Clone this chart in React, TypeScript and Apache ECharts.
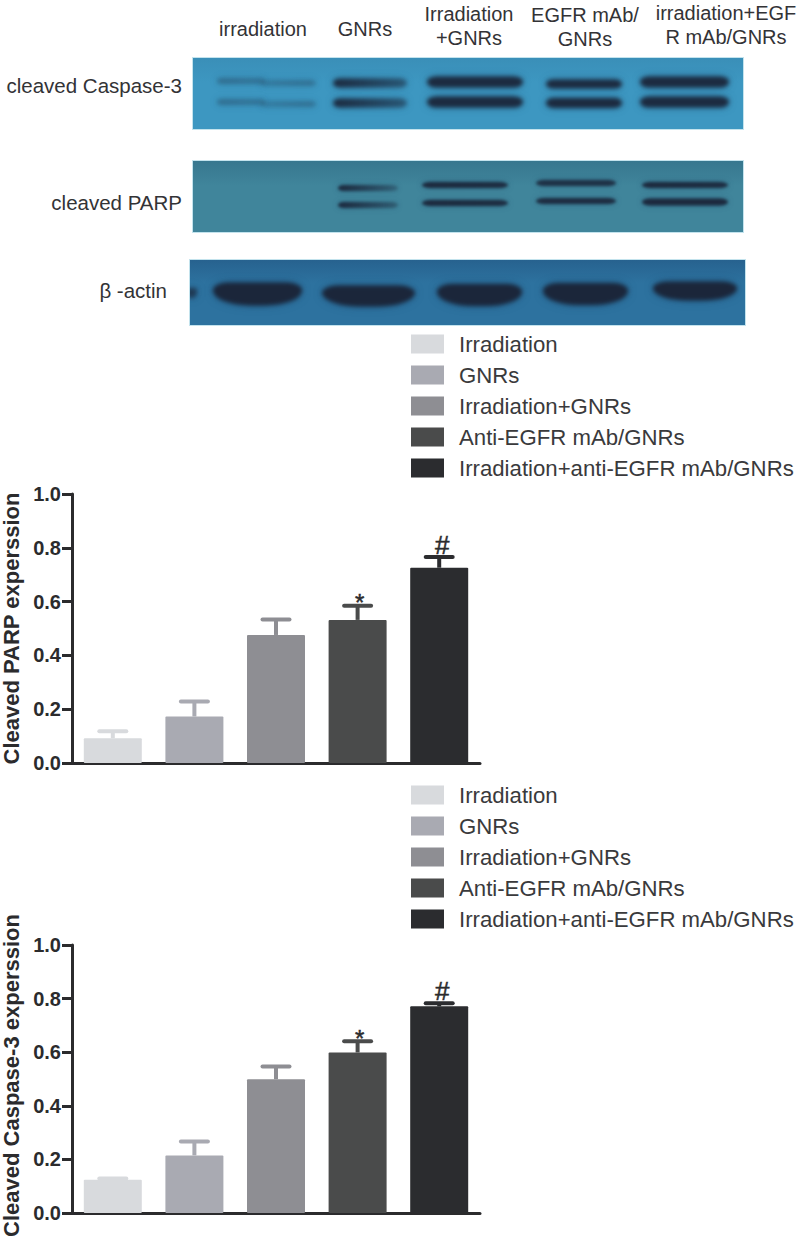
import React, { useEffect, useRef } from "react";
import * as echarts from "echarts";

const categories = ["Irradiation", "GNRs", "Irradiation+GNRs", "Anti-EGFR mAb/GNRs", "Irradiation+anti-EGFR mAb/GNRs"];
const parpValues = [0.092, 0.173, 0.476, 0.532, 0.726];
const parpErrorTops = [0.118, 0.229, 0.533, 0.585, 0.766];
const caspaseValues = [0.124, 0.215, 0.499, 0.599, 0.771];
const caspaseErrorTops = [0.129, 0.267, 0.547, 0.641, 0.783];
const significance = ["", "", "", "*", "#"];
const barColors = ["#d8dadd", "#a9aab2", "#8e8e93", "#4a4b4b", "#2b2c2f"];
const INK = "#2b2b2d";
const FONT = "'Liberation Sans', Arial, sans-serif";

// Western-blot photographs: panel rect, colours, and bands [x0, x1, yCentre, height, alphaLeft, alphaRight]
type Band = number[];
const blotPanels = [
  { rect: [193, 58, 550, 71], colors: ["#3a8fb8", "#3d97c1"], blur: 2, halo: 4, lens: false, bands: [
    [217, 265, 81, 6, 0.32, 0.26], [260, 316, 83, 6, 0.22, 0.3],
    [217, 265, 102, 6, 0.32, 0.26], [260, 316, 104, 6, 0.2, 0.3],
    [333, 407, 83, 9, 0.95, 0.5], [333, 407, 103, 9, 0.95, 0.5],
    [427, 523, 82, 11, 0.95, 0.95], [427, 523, 102, 11, 0.95, 0.95],
    [546, 622, 84, 9, 0.95, 0.95], [546, 622, 103, 10, 0.95, 0.95],
    [640, 729, 82, 11, 0.95, 0.95], [640, 729, 102, 11, 0.95, 0.95],
  ] as Band[] },
  { rect: [193, 161, 550, 71], colors: ["#37778f", "#40859b"], blur: 1.5, halo: 3, lens: false, bands: [
    [338, 398, 188, 6, 0.95, 0.3], [338, 398, 205, 6, 0.95, 0.35],
    [422, 508, 185, 6, 0.95, 0.9], [422, 508, 203, 6, 0.95, 0.9],
    [536, 616, 183, 6, 0.85, 0.85], [536, 616, 201, 6, 0.9, 0.9],
    [642, 728, 185, 6, 0.95, 0.9], [642, 728, 202, 7, 0.95, 0.95],
  ] as Band[] },
  { rect: [190, 260, 555, 65], colors: ["#27628f", "#2d729f"], blur: 2.2, halo: 5, lens: true, bands: [
    [213, 302, 294, 23, 1, 1], [322, 415, 296, 21, 1, 1], [437, 522, 295, 22, 1, 1],
    [543, 628, 294, 22, 1, 1], [653, 737, 291, 19, 1, 1], [186, 197, 293, 10, 0.7, 0.7],
  ] as Band[] },
];

function paintBlots(): string {
  const canvas = document.createElement("canvas");
  canvas.width = 798;
  canvas.height = 340;
  const ctx = canvas.getContext("2d") as CanvasRenderingContext2D;
  for (const panel of blotPanels) {
    const [x, y, w, h] = panel.rect;
    ctx.save();
    const bg = ctx.createLinearGradient(0, y, 0, y + h);
    bg.addColorStop(0, panel.colors[0]);
    bg.addColorStop(0.35, panel.colors[1]);
    bg.addColorStop(1, panel.colors[1]);
    ctx.fillStyle = bg;
    ctx.fillRect(x, y, w, h);
    ctx.beginPath();
    ctx.rect(x, y, w, h);
    ctx.clip();
    for (const pass of [0, 1]) {
      ctx.filter = `blur(${pass === 0 ? panel.halo : panel.blur}px)`;
      for (const [x0, x1, cy, bh, a0, a1] of panel.bands) {
        const g = ctx.createLinearGradient(x0, 0, x1, 0);
        const k = pass === 0 ? 0.35 : 1;
        const rgb = pass === 0 ? "15,50,85" : "27,38,58";
        g.addColorStop(0, `rgba(${rgb},${a0 * k})`);
        g.addColorStop(1, `rgba(${rgb},${a1 * k})`);
        ctx.fillStyle = g;
        ctx.beginPath();
        const bw = x1 - x0;
        const radii = panel.lens
          ? [{ x: bw * 0.18, y: bh * 0.35 }, { x: bw * 0.18, y: bh * 0.35 }, { x: bw * 0.42, y: bh * 0.65 }, { x: bw * 0.42, y: bh * 0.65 }]
          : [{ x: bw * 0.1, y: bh * 0.5 }, { x: bw * 0.1, y: bh * 0.5 }, { x: bw * 0.1, y: bh * 0.5 }, { x: bw * 0.1, y: bh * 0.5 }];
        ctx.roundRect(x0, cy - bh / 2, bw, bh, radii);
        ctx.fill();
      }
    }
    ctx.filter = "none";
    ctx.restore();
    ctx.strokeStyle = "rgba(170,215,230,0.7)";
    ctx.lineWidth = 1;
    ctx.strokeRect(x - 0.5, y - 0.5, w + 1, h + 1);
  }
  return canvas.toDataURL("image/png");
}

const topLabels = [
  { text: "irradiation", x: 263, y: 29 },
  { text: "GNRs", x: 365, y: 29 },
  { text: "Irradiation\n+GNRs", x: 469, y: 26 },
  { text: "EGFR mAb/\nGNRs", x: 585, y: 27 },
  { text: "irradiation+EGF\nR mAb/GNRs", x: 726, y: 25 },
];
const sideLabels = [
  { text: "cleaved Caspase-3", x: 182, y: 85 },
  { text: "cleaved PARP", x: 182, y: 202 },
  { text: "β -actin", x: 167, y: 290 },
];

function makeErrorSeries(xAxisIndex: number, errorTops: number[], barVals: number[]) {
  return {
    type: "custom",
    xAxisIndex,
    yAxisIndex: xAxisIndex,
    z: 1,
    silent: true,
    data: categories.map((c, i) => [c, errorTops[i]]),
    renderItem: (params: any, api: any) => {
      const i = params.dataIndex;
      const top = api.coord([categories[i], errorTops[i]]);
      const base = api.coord([categories[i], barVals[i]]);
      const color = barColors[i];
      const children: any[] = [
        { type: "rect", shape: { x: top[0] - 2, y: top[1], width: 4, height: base[1] - top[1] }, style: { fill: color } },
        { type: "rect", shape: { x: top[0] - 15.5, y: top[1] - 2, width: 31, height: 4, r: 2 }, style: { fill: color } },
      ];
      if (significance[i]) {
        const isHash = significance[i] === "#";
        children.push({
          type: "text",
          style: {
            text: significance[i],
            x: top[0] + (isHash ? 3 : 2),
            y: top[1] + (isHash ? -12 : -3),
            align: "center",
            verticalAlign: "middle",
            fill: "#2b2b2d",
            stroke: "#2b2b2d",
            lineWidth: 0.5,
            font: `${isHash ? 26 : 24}px ${FONT}`,
          },
        });
      }
      return { type: "group", children };
    },
  };
}

function makeBarSeries(xAxisIndex: number, values: number[]) {
  return categories.map((name, i) => ({
    type: "bar",
    name,
    xAxisIndex,
    yAxisIndex: xAxisIndex,
    barWidth: 58,
    barGap: "-100%",
    z: 2,
    itemStyle: { color: barColors[i], borderRadius: 1 },
    data: [[name, values[i]]],
  }));
}

function makeLegend(top: number) {
  return {
    left: 411,
    top,
    orient: "vertical",
    padding: 0,
    itemWidth: 33,
    itemHeight: 19,
    itemGap: 9,
    icon: "rect",
    selectedMode: false,
    data: categories,
    textStyle: { fontFamily: FONT, fontSize: 22.2, color: "#3a3a3c", padding: [0, 0, 0, 10] },
  };
}

function makeYAxis(gridIndex: number, name: string, namePadding: number[]) {
  return {
    type: "value",
    gridIndex,
    min: 0,
    max: 1,
    interval: 0.2,
    name,
    nameLocation: "middle",
    nameGap: 46,
    nameTextStyle: { fontFamily: FONT, fontSize: 22, fontWeight: "bold", color: INK, padding: namePadding },
    axisLine: { show: true, lineStyle: { color: INK, width: 3 } },
    axisTick: { show: true, length: 10, lineStyle: { color: INK, width: 3 } },
    axisLabel: {
      margin: 11,
      fontFamily: FONT,
      fontSize: 20,
      fontWeight: "bold",
      color: INK,
      formatter: (v: number) => v.toFixed(1),
    },
    splitLine: { show: false },
  };
}

function makeXAxis(gridIndex: number) {
  return {
    type: "category",
    gridIndex,
    data: categories,
    axisLine: { show: true, lineStyle: { color: INK, width: 3 } },
    axisTick: { show: false },
    axisLabel: { show: false },
    splitLine: { show: false },
  };
}

export default function App() {
  const ref = useRef<HTMLDivElement>(null);
  useEffect(() => {
    document.body.style.margin = "0";
    const chart = echarts.init(ref.current as HTMLDivElement, undefined, { renderer: "svg" });
    const textStyle = (t: { text: string; x: number; y: number }, align: string, size: number) => ({
      type: "text",
      style: {
        text: t.text,
        x: t.x,
        y: t.y,
        align,
        verticalAlign: "middle",
        lineHeight: 24,
        fill: "#333336",
        font: `${size}px ${FONT}`,
      },
    });
    chart.setOption({
      animation: false,
      backgroundColor: "#fff",
      textStyle: { fontFamily: FONT },
      grid: [
        { left: 72, top: 494, width: 408, height: 269, outerBoundsMode: "none" },
        { left: 72, top: 945, width: 408, height: 268, outerBoundsMode: "none" },
      ],
      xAxis: [makeXAxis(0), makeXAxis(1)],
      yAxis: [
        makeYAxis(0, "Cleaved PARP experssion", [0, 0, 0, 0]),
        makeYAxis(1, "Cleaved Caspase-3 experssion", [0, 0, 0, 7]),
      ],
      legend: [makeLegend(333), makeLegend(784)],
      series: [
        ...makeBarSeries(0, parpValues),
        makeErrorSeries(0, parpErrorTops, parpValues),
        ...makeBarSeries(1, caspaseValues),
        makeErrorSeries(1, caspaseErrorTops, caspaseValues),
      ],
      graphic: [
        { type: "image", x: 0, y: 0, silent: true, style: { image: paintBlots(), x: 0, y: 0, width: 798, height: 340 } },
        ...topLabels.map((t) => textStyle(t, "center", 20)),
        ...sideLabels.map((t) => textStyle(t, "right", 20.5)),
      ],
    });
    return () => chart.dispose();
  }, []);
  return <div ref={ref} style={{ width: 798, height: 1240 }} />;
}
